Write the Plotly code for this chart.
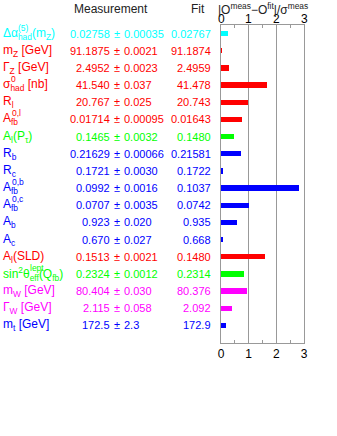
import plotly.graph_objects as go

labels = [
    "Δα<sub>had</sub>(m<sub>Z</sub>)",
    "m<sub>Z</sub> [GeV]",
    "Γ<sub>Z</sub> [GeV]",
    "σ<sub>had</sub> [nb]",
    "R<sub>l</sub>",
    "A<sub>fb</sub>",
    "A<sub>l</sub>(P<sub>τ</sub>)",
    "R<sub>b</sub>",
    "R<sub>c</sub>",
    "A<sub>fb</sub>",
    "A<sub>fb</sub>",
    "A<sub>b</sub>",
    "A<sub>c</sub>",
    "A<sub>l</sub>(SLD)",
    "sin<sup>2</sup>θ<sub>eff</sub>(Q<sub>fb</sub>)",
    "m<sub>W</sub> [GeV]",
    "Γ<sub>W</sub> [GeV]",
    "m<sub>t</sub> [GeV]",
]
# stacked superscripts (drawn above the subscripts)
label_sups = ["(5)", "", "", "0", "", "0,l", "", "", "", "0,b", "0,c", "", "", "", "lept",
              "", "", ""]
meas_values = ["0.02758", "91.1875", "2.4952", "41.540", "20.767", "0.01714", "0.1465",
               "0.21629", "0.1721", "0.0992", "0.0707", "0.923", "0.670", "0.1513",
               "0.2324", "80.404", "2.115", "172.5"]
meas_errors = ["0.00035", "0.0021", "0.0023", "0.037", "0.025", "0.00095", "0.0032",
               "0.00066", "0.0030", "0.0016", "0.0035", "0.020", "0.027", "0.0021",
               "0.0012", "0.030", "0.058", "2.3"]
fit_values = ["0.02767", "91.1874", "2.4959", "41.478", "20.743", "0.01643", "0.1480",
              "0.21581", "0.1722", "0.1037", "0.0742", "0.935", "0.668", "0.1480",
              "0.2314", "80.376", "2.092", "172.9"]
pulls = [0.26, 0.03, 0.30, 1.68, 0.96, 0.75, 0.47, 0.73, 0.04, 2.82, 1.00, 0.59, 0.07,
         1.58, 0.83, 0.94, 0.40, 0.17]
row_colors = ["#00FFFF", "#FF0000", "#FF0000", "#FF0000", "#FF0000", "#FF0000", "#00FF00",
              "#0000FF", "#0000FF", "#0000FF", "#0000FF", "#0000FF", "#0000FF", "#FF0000",
              "#00FF00", "#FF00FF", "#FF00FF", "#0000FF"]
x_ticks = [0, 1, 2, 3]

# layout (pixel) settings
W, H = 337, 436
PL, PR, PT, PB = 221, 304, 25, 342.7
FONT = "Liberation Sans, Arial, sans-serif"
LABEL_X = 2
SUP_OFFSET = {"(5)": 15, "0": 7.5, "0,l": 8.5, "0,b": 8.5, "0,c": 8.5, "lept": 27}

def px(xpix):
    return (xpix - PL) / (PR - PL)

def py(ypix):
    return (PB - ypix) / (PB - PT)

rows = list(range(len(labels)))

fig = go.Figure()
fig.add_trace(go.Bar(
    x=pulls, y=rows, orientation="h", width=0.31,
    marker=dict(color=row_colors, line=dict(width=0)),
    hoverinfo="skip", showlegend=False,
))
# invisible trace to activate the top axis
fig.add_trace(go.Scatter(x=[0, 3], y=[0, 0], xaxis="x2", mode="markers",
                         marker=dict(opacity=0), showlegend=False, hoverinfo="skip"))

ann = []
for i in rows:
    c = row_colors[i]
    ann.append(dict(x=px(LABEL_X), y=i, xref="paper", yref="y", text=labels[i],
                    xanchor="left", yanchor="middle", showarrow=False, borderpad=0,
                    font=dict(family=FONT, size=12, color=c)))
    if label_sups[i]:
        ann.append(dict(x=px(LABEL_X + SUP_OFFSET[label_sups[i]]), y=i, xref="paper",
                        yref="y", text=label_sups[i], xanchor="left", yanchor="middle",
                        yshift=6, showarrow=False, borderpad=0,
                        font=dict(family=FONT, size=8.5, color=c)))
    ann.append(dict(x=px(110.5), y=i, xref="paper", yref="y", text=meas_values[i],
                    xanchor="right", yanchor="middle", showarrow=False, borderpad=0,
                    font=dict(family=FONT, size=11, color=c)))
    ann.append(dict(x=px(116.7), y=i, xref="paper", yref="y", text="±",
                    xanchor="center", yanchor="middle", showarrow=False, borderpad=0,
                    font=dict(family=FONT, size=11, color=c)))
    ann.append(dict(x=px(122.9), y=i, xref="paper", yref="y", text=meas_errors[i],
                    xanchor="left", yanchor="middle", showarrow=False, borderpad=0,
                    font=dict(family=FONT, size=11, color=c)))
    ann.append(dict(x=px(212), y=i, xref="paper", yref="y", text=fit_values[i],
                    xanchor="right", yanchor="middle", showarrow=False, borderpad=0,
                    font=dict(family=FONT, size=11, color=c)))

# top tick labels
for t in x_ticks:
    ann.append(dict(x=t, y=py(19.5), xref="x", yref="paper", text=str(t),
                    xanchor="center", yanchor="middle", showarrow=False, borderpad=0,
                    font=dict(family=FONT, size=12, color="black")))

ann.append(dict(x=px(111), y=py(9), xref="paper", yref="paper", text="Measurement",
                xanchor="center", yanchor="middle", showarrow=False, borderpad=0,
                font=dict(family=FONT, size=12, color="#222")))
ann.append(dict(x=px(197.5), y=py(9), xref="paper", yref="paper", text="Fit",
                xanchor="center", yanchor="middle", showarrow=False, borderpad=0,
                font=dict(family=FONT, size=12, color="#222")))
ann.append(dict(x=px(262.5), y=py(0), xref="paper", yref="paper",
                text="|O<sup>meas</sup>−O<sup>fit</sup>|/σ<sup>meas</sup>",
                xanchor="center", yanchor="top", showarrow=False, borderpad=0,
                font=dict(family=FONT, size=12, color="#222")))

axis_common = dict(
    range=[0, 3], tickvals=x_ticks, ticktext=[str(t) for t in x_ticks],
    ticks="inside", ticklen=6, tickcolor="#999", tickwidth=1,
    showline=True, linecolor="#999", linewidth=1,
    minor=dict(dtick=0.5, ticks="inside", ticklen=3, tickcolor="#999", showgrid=False),
    tickfont=dict(family=FONT, size=12, color="black"),
    zeroline=False, fixedrange=True, automargin=False,
)

fig.update_layout(
    width=W, height=H,
    margin=dict(l=PL, r=W - PR, t=PT, b=H - PB, pad=0),
    paper_bgcolor="white", plot_bgcolor="white",
    xaxis=dict(**axis_common, side="bottom", showgrid=True, gridcolor="#999", gridwidth=1),
    xaxis2=dict(**axis_common, side="top", overlaying="x", matches="x", showgrid=False,
                showticklabels=False),
    yaxis=dict(range=[18.03, -0.5], showticklabels=False, ticks="", showgrid=False,
               showline=True, linecolor="#999", mirror=True, zeroline=False, fixedrange=True,
               automargin=False),
    annotations=ann,
    bargap=0,
)
fig.write_html("out.html", config={"displayModeBar": False},
               post_script="document.body.style.margin='0px';")
